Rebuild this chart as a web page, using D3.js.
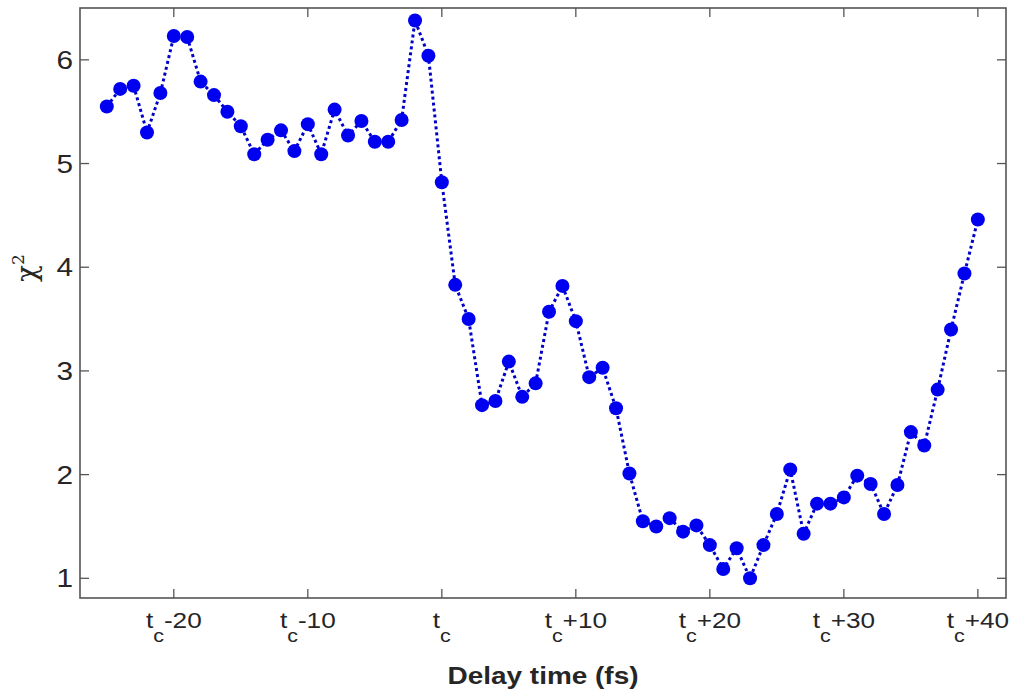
<!DOCTYPE html>
<html lang="en">
  <head>
    <meta charset="UTF-8" />
    <title>Chi-squared vs delay time</title>
    <script src="https://d3js.org/d3.v7.min.js"></script>
    <style>
      body {
        margin: 0;
        background: white;
        font-family: "Liberation Sans", Arial, sans-serif;
      }
    </style>
  </head>
  <body>
    <script>
      // Delay relative to t_c (fs), one point per fs
      const delays = d3.range(-25, 41);
      // chi^2 values
      const chi2 = [
        5.55, 5.72, 5.75, 5.3, 5.68, 6.23, 6.22, 5.79, 5.66, 5.5,
        5.36, 5.09, 5.23, 5.32, 5.12, 5.38, 5.09, 5.52, 5.27, 5.41,
        5.21, 5.21, 5.42, 6.38, 6.04, 4.82, 3.83, 3.5, 2.67, 2.71,
        3.09, 2.75, 2.88, 3.57, 3.82, 3.48, 2.94, 3.03, 2.64, 2.01,
        1.55, 1.5, 1.58, 1.45, 1.51, 1.32, 1.09, 1.29, 1.0, 1.32,
        1.62, 2.05, 1.43, 1.72, 1.72, 1.78, 1.99, 1.91, 1.62, 1.9,
        2.41, 2.28, 2.82, 3.4, 3.94, 4.46
      ];
      const xTicks = [-20, -10, 0, 10, 20, 30, 40];
      const yTicks = [1, 2, 3, 4, 5, 6];

      const data = delays.map((d, i) => ({ x: d, y: chi2[i] }));

      const width = 1016;
      const height = 700;
      const margin = { top: 8, right: 10, bottom: 102, left: 80 };
      const stretch = 1.19; // the original figure text is a bit wide

      const svg = d3
        .select("body")
        .append("svg")
        .attr("width", width)
        .attr("height", height);

      const x = d3
        .scaleLinear()
        .domain([-27, 42.1])
        .range([margin.left, width - margin.right]);
      const y = d3
        .scaleLinear()
        .domain([0.81, 6.5])
        .range([height - margin.bottom, margin.top]);

      const axisColor = "#555";
      const textColor = "#262626";
      const tickLen = 9;

      // ticks on all four sides, pointing inward
      const g = svg.append("g").attr("stroke", axisColor).attr("stroke-width", 1.3);
      xTicks.forEach((t) => {
        g.append("line")
          .attr("x1", x(t)).attr("x2", x(t))
          .attr("y1", y.range()[0]).attr("y2", y.range()[0] - tickLen);
        g.append("line")
          .attr("x1", x(t)).attr("x2", x(t))
          .attr("y1", y.range()[1]).attr("y2", y.range()[1] + tickLen);
      });
      yTicks.forEach((t) => {
        g.append("line")
          .attr("x1", x.range()[0]).attr("x2", x.range()[0] + tickLen)
          .attr("y1", y(t)).attr("y2", y(t));
        g.append("line")
          .attr("x1", x.range()[1]).attr("x2", x.range()[1] - tickLen)
          .attr("y1", y(t)).attr("y2", y(t));
      });

      // frame
      svg.append("rect")
        .attr("x", x.range()[0])
        .attr("y", y.range()[1])
        .attr("width", x.range()[1] - x.range()[0])
        .attr("height", y.range()[0] - y.range()[1])
        .attr("fill", "none")
        .attr("stroke", axisColor)
        .attr("stroke-width", 1.6);

      // y tick labels
      svg.append("g")
        .selectAll("text")
        .data(yTicks)
        .join("text")
        .attr("transform", (d) => `translate(73,${y(d)}) scale(${stretch},1)`)
        .attr("dy", "0.36em")
        .attr("text-anchor", "end")
        .attr("font-size", 25)
        .attr("fill", textColor)
        .text((d) => d);

      // x tick labels: t_c +/- n
      const xl = svg.append("g")
        .selectAll("text")
        .data(xTicks)
        .join("text")
        .attr("transform", (d) => `translate(${x(d)},628) scale(${stretch},1)`)
        .attr("text-anchor", "middle")
        .attr("font-size", 22)
        .attr("fill", textColor);
      xl.append("tspan").text("t");
      xl.append("tspan")
        .attr("dy", 14)
        .attr("font-size", 18)
        .text("c");
      xl.append("tspan")
        .attr("dy", -14)
        .text((d) => (d === 0 ? "" : d > 0 ? "+" + d : "-" + Math.abs(d)));

      // axis titles
      svg.append("text")
        .attr("transform", `translate(${(x.range()[0] + x.range()[1]) / 2},684) scale(${stretch},1)`)
        .attr("text-anchor", "middle")
        .attr("font-size", 23.5)
        .attr("font-weight", "bold")
        .attr("fill", textColor)
        .text("Delay time (fs)");

      const yl = svg.append("text")
        .attr("transform", `translate(36,268) rotate(-90)`)
        .attr("text-anchor", "middle")
        .attr("font-family", "'DejaVu Serif', serif")
        .attr("font-size", 28)
        .attr("fill", textColor);
      yl.append("tspan").text("\u03c7");
      yl.append("tspan").attr("dy", -12).attr("font-size", 17).text("2");

      // dotted line
      const line = d3.line().x((d) => x(d.x)).y((d) => y(d.y));
      svg.append("path")
        .datum(data)
        .attr("d", line)
        .attr("fill", "none")
        .attr("stroke", "#0000c8")
        .attr("stroke-width", 3)
        .attr("stroke-dasharray", "3,3");

      // markers
      svg.append("g")
        .selectAll("circle")
        .data(data)
        .join("circle")
        .attr("cx", (d) => x(d.x))
        .attr("cy", (d) => y(d.y))
        .attr("r", 7)
        .attr("fill", "#0000f0");
    </script>
  </body>
</html>
